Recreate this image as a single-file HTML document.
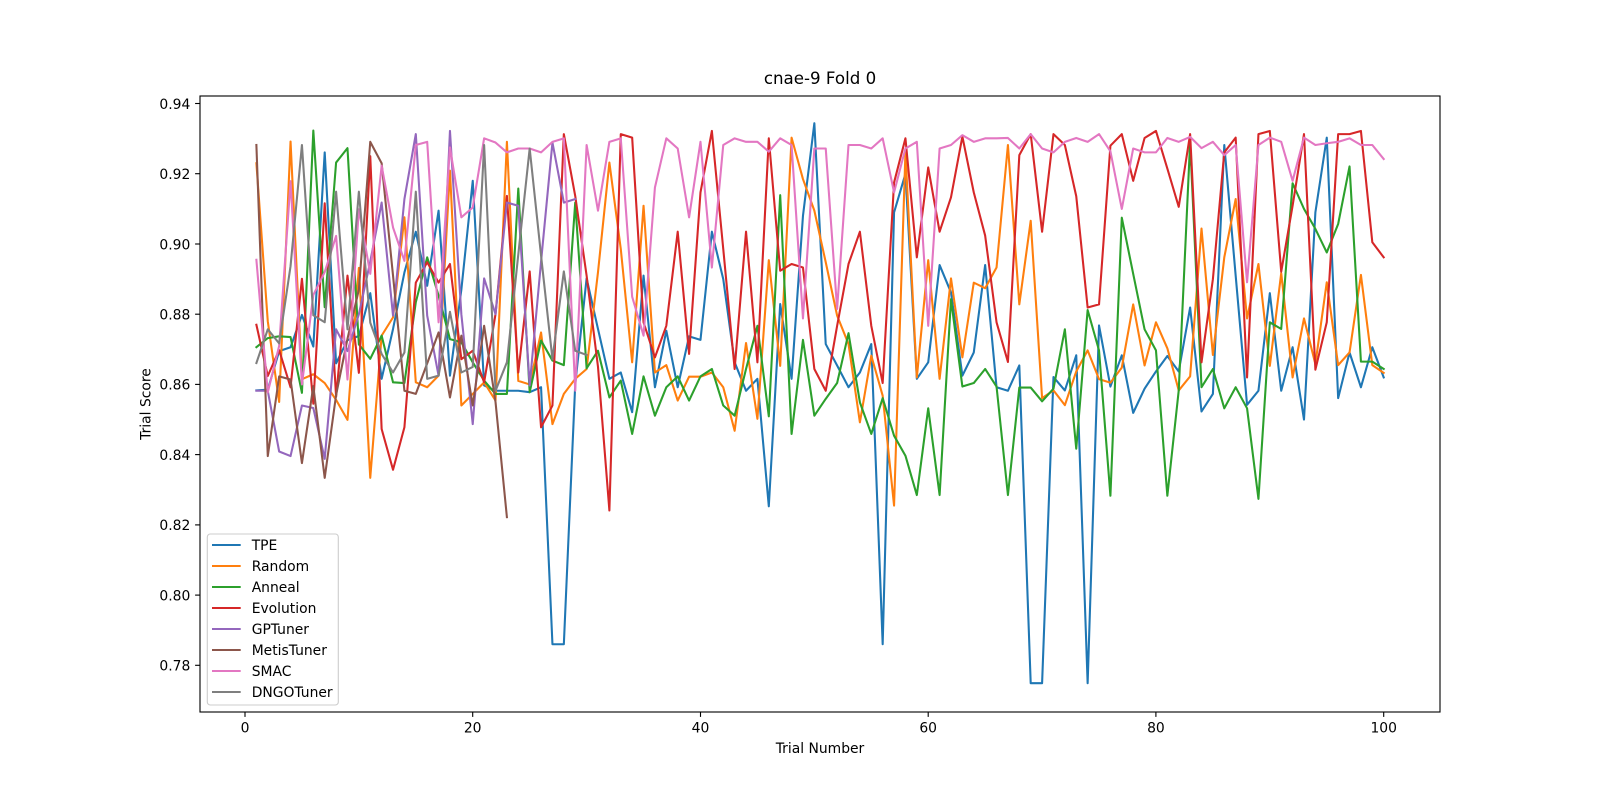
<!DOCTYPE html>
<html>
<head>
<meta charset="utf-8">
<style>
  html, body { margin: 0; padding: 0; background: #ffffff; }
  svg { display: block; }
  text { font-family: "DejaVu Sans", "Liberation Sans", sans-serif; fill: #000; }
</style>
</head>
<body>
<svg width="1600" height="800" viewBox="0 0 1600 800" xmlns="http://www.w3.org/2000/svg">
  <rect x="0" y="0" width="1600" height="800" fill="#ffffff"/>

  <!-- title -->
  <text x="820" y="84" font-size="16.67" text-anchor="middle">cnae-9 Fold 0</text>

  <!-- data -->
  <g transform="matrix(11.387 0 0 -3.511 245 3403.9)" fill="none" stroke-width="2.08" stroke-linejoin="round" stroke-linecap="square">
    <polyline vector-effect="non-scaling-stroke" stroke="#1f77b4" points="1,858.3 2,858.5 3,869.5 4,870.6 5,879.8 6,870.8 7,926.1 8,866 9,872.6 10,873.8 11,886 12,861.6 13,875.8 14,891.9 15,903.5 16,888.1 17,909.5 18,862.5 19,887 20,918 21,859.7 22,858.2 23,858.2 24,858.2 25,857.8 26,859.2 27,786 28,786 29,860 30,890.2 31,875.8 32,861.6 33,863.4 34,852.1 35,891 36,859.2 37,875.3 38,859.2 39,873.7 40,872.7 41,903.5 42,890 43,866.3 44,858.2 45,861.6 46,825.3 47,882.9 48,861.6 49,908 50,934.4 51,871.5 52,865.4 53,859.2 54,863.4 55,871.5 56,786 57,909 58,920 59,861.6 60,866.3 61,894 62,886.2 63,862.5 64,869.1 65,894 66,859.2 67,858.2 68,865.4 69,774.9 70,774.9 71,862.1 72,858.3 73,868.3 74,774.9 75,876.8 76,859.4 77,868.3 78,851.9 79,858.8 80,863.7 81,868.1 82,863.7 83,881.9 84,852.3 85,857.3 86,928.2 87,891 88,854.2 89,858.2 90,886 91,858.2 92,870.6 93,850 94,909 95,930.3 96,856.1 97,869.1 98,859.2 99,870.6 100,862"/>
    <polyline vector-effect="non-scaling-stroke" stroke="#ff7f0e" points="1,923 2,878 3,855 4,929.2 5,861.5 6,862.9 7,860.4 8,855.6 9,849.9 10,893.2 11,833.4 12,873.9 13,879.1 14,907.6 15,860.6 16,859.2 17,862.5 18,920.9 19,854 20,857.3 21,860.6 22,855.4 23,929.1 24,861 25,860 26,874.8 27,848.7 28,857.3 29,861.6 30,864.4 31,892 32,923.2 33,898.6 34,866.3 35,910.9 36,863.4 37,865.5 38,855.4 39,862.2 40,862.2 41,863.4 42,859.2 43,846.8 44,871.8 45,850.2 46,895.4 47,865.3 48,930.3 49,918.5 50,909.5 51,894.8 52,879.6 53,871.5 54,849.2 55,868.2 56,856.8 57,825.5 58,926.1 59,862 60,895.4 61,861.6 62,890.2 63,867.7 64,889 65,887.4 66,893.3 67,928.2 68,882.8 69,906.6 70,856.1 71,858.3 72,854.1 73,863.7 74,869.7 75,861.5 76,860.5 77,864.8 78,882.8 79,865.4 80,877.7 81,870.3 82,858.3 83,862.3 84,904.4 85,868.4 86,896.2 87,912.8 88,878.8 89,894.3 90,865.3 91,891.7 92,862 93,878.8 94,865.8 95,889.1 96,865.5 97,869.1 98,891.2 99,865.5 100,863.3"/>
    <polyline vector-effect="non-scaling-stroke" stroke="#2ca02c" points="1,870.6 2,873.2 3,873.7 4,873.5 5,857.6 6,932.3 7,882 8,923.2 9,927.3 10,871.4 11,867.3 12,873.9 13,860.6 14,860.4 15,883.4 16,896.2 17,885.3 18,872.9 19,872 20,866.3 21,861.1 22,857.3 23,857.3 24,915.8 25,857.8 26,872.5 27,866.8 28,865.5 29,911.8 30,864.6 31,869.6 32,856.3 33,861.1 34,845.9 35,862.3 36,851.1 37,859.2 38,862.3 39,855.4 40,862.3 41,864.4 42,854 43,851.1 44,864.4 45,876.7 46,850.9 47,913.9 48,845.9 49,872.7 50,851.1 51,855.9 52,860.4 53,874.6 54,854.9 55,845.9 56,856.1 57,845.4 58,839.7 59,828.5 60,853.2 61,828.5 62,884.3 63,859.4 64,860.4 65,864.4 66,859.4 67,828.5 68,859.1 69,859.1 70,855.2 71,858.8 72,875.7 73,841.7 74,881.2 75,869.7 76,828.3 77,907.5 78,891.5 79,875.7 80,869.7 81,828.3 82,858.3 83,929 84,859.2 85,864.4 86,853.2 87,859.2 88,853.2 89,827.4 90,877.7 91,875.8 92,917.3 93,910 94,904.3 95,897.6 96,905.7 97,922.1 98,866.5 99,866.5 100,864.4"/>
    <polyline vector-effect="non-scaling-stroke" stroke="#d62728" points="1,877 2,862.4 3,869.8 4,859.2 5,890.1 6,854.5 7,911.6 8,856.5 9,891 10,863.3 11,925 12,847.3 13,835.7 14,847.8 15,889 16,894.8 17,889 18,894.3 19,867.2 20,869.6 21,860.6 22,880 23,913.7 24,863.4 25,892.2 26,847.8 27,854 28,931.3 29,913.7 30,891 31,865 32,824.1 33,931.3 34,930.3 35,877.7 36,867.7 37,876.7 38,903.5 39,868.7 40,914.7 41,932.2 42,898.6 43,864.4 44,903.5 45,866.3 46,930.1 47,892.4 48,894.3 49,893.3 50,864.4 51,858.2 52,876.7 53,894.3 54,903.5 55,876.7 56,860.4 57,917.5 58,930.1 59,896.2 60,921.8 61,903.5 62,913.3 63,930.6 64,914.7 65,902.4 66,877.7 67,866.4 68,925.3 69,931.3 70,903.5 71,931.3 72,928.2 73,913.6 74,881.9 75,882.8 76,928 77,931.3 78,918 79,930.2 80,932.2 81,921.5 82,910.6 83,931.3 84,866.3 85,890 86,926.1 87,930.3 88,862 89,931.3 90,932.2 91,892.1 92,910.9 93,931.3 94,864.2 95,877.7 96,931.3 97,931.3 98,932.2 99,900.5 100,896.2"/>
    <polyline vector-effect="non-scaling-stroke" stroke="#9467bd" points="1,858.2 2,858.2 3,840.9 4,839.6 5,854 6,853.3 7,838.8 8,875.7 9,869.5 10,880 11,895 12,911.8 13,879.6 14,912.8 15,931.3 16,879.6 17,862.5 18,932.2 19,880 20,848.7 21,890.2 22,880 23,911.8 24,910.9 25,859.7 26,895 27,928.9 28,911.8 29,912.8"/>
    <polyline vector-effect="non-scaling-stroke" stroke="#8c564b" points="1,928.2 2,839.6 3,862.3 4,861.4 5,837.6 6,859.5 7,833.4 8,857 9,873 10,887 11,929.1 12,923 13,891 14,858.2 15,857.3 16,866 17,874.8 18,856.3 19,873.9 20,854 21,876.7 22,855 23,822.2"/>
    <polyline vector-effect="non-scaling-stroke" stroke="#e377c2" points="1,895.5 2,857.7 3,871 4,917.9 5,860 6,885.5 7,892 8,902.3 9,861.4 10,909.9 11,891.5 12,922.3 13,904.7 14,895.2 15,928.2 16,929.1 17,877.7 18,927.5 19,907.6 20,910.4 21,930.1 22,928.9 23,926.1 24,927.2 25,927.2 26,926.1 27,929.1 28,930.1 29,858.2 30,928.2 31,909.5 32,929.1 33,930.1 34,885 35,873.9 36,916.1 37,930.1 38,927.2 39,907.6 40,929.1 41,893.3 42,928.2 43,930.1 44,929.1 45,929.1 46,926.3 47,930.1 48,928.2 49,878.8 50,927.2 51,927.2 52,881.5 53,928.2 54,928.2 55,927.2 56,930.1 57,914.7 58,927.2 59,929.1 60,876.7 61,927.2 62,928.2 63,931 64,929.1 65,930.1 66,930.1 67,930.2 68,927.2 69,931.3 70,927.2 71,926.1 72,929.1 73,930.2 74,929.1 75,931.3 76,926.4 77,910 78,927.2 79,926.1 80,926.1 81,930.2 82,929.1 83,930.5 84,927.3 85,929.1 86,925.3 87,928.2 88,889.1 89,928.2 90,930.3 91,929.1 92,918 93,930.3 94,928.2 95,928.7 96,929.1 97,930.1 98,928.2 99,928.2 100,924.2"/>
    <polyline vector-effect="non-scaling-stroke" stroke="#7f7f7f" points="1,866.1 2,875.7 3,871.7 4,893.7 5,928.2 6,879.7 7,877.7 8,914.9 9,875.7 10,914.9 11,877.6 12,868.7 13,863.4 14,869.1 15,914.9 16,861.6 17,862.5 18,880.7 19,863.4 20,865 21,928.2 22,858.2 23,866.3 24,897 25,927.2 26,896.7 27,867.2 28,892.2 29,869.6 30,868.4"/>
  </g>

  <!-- axes frame -->
  <rect x="200" y="96" width="1240" height="616" fill="none" stroke="#000" stroke-width="1.11"/>

  <!-- x ticks -->
  <g stroke="#000" stroke-width="1.11">
    <line x1="245" y1="712" x2="245" y2="716.9"/>
    <line x1="472.7" y1="712" x2="472.7" y2="716.9"/>
    <line x1="700.5" y1="712" x2="700.5" y2="716.9"/>
    <line x1="928.2" y1="712" x2="928.2" y2="716.9"/>
    <line x1="1155.9" y1="712" x2="1155.9" y2="716.9"/>
    <line x1="1383.7" y1="712" x2="1383.7" y2="716.9"/>
  </g>
  <g font-size="13.89" text-anchor="middle">
    <text x="245" y="732.5">0</text>
    <text x="472.7" y="732.5">20</text>
    <text x="700.5" y="732.5">40</text>
    <text x="928.2" y="732.5">60</text>
    <text x="1155.9" y="732.5">80</text>
    <text x="1383.7" y="732.5">100</text>
  </g>
  <text x="820" y="753" font-size="13.89" text-anchor="middle">Trial Number</text>

  <!-- y ticks -->
  <g stroke="#000" stroke-width="1.11">
    <line x1="195.1" y1="665.3" x2="200" y2="665.3"/>
    <line x1="195.1" y1="595.1" x2="200" y2="595.1"/>
    <line x1="195.1" y1="524.9" x2="200" y2="524.9"/>
    <line x1="195.1" y1="454.6" x2="200" y2="454.6"/>
    <line x1="195.1" y1="384.4" x2="200" y2="384.4"/>
    <line x1="195.1" y1="314.2" x2="200" y2="314.2"/>
    <line x1="195.1" y1="244" x2="200" y2="244"/>
    <line x1="195.1" y1="173.7" x2="200" y2="173.7"/>
    <line x1="195.1" y1="103.5" x2="200" y2="103.5"/>
  </g>
  <g font-size="13.89" text-anchor="end">
    <text x="190.3" y="670.6">0.78</text>
    <text x="190.3" y="600.4">0.80</text>
    <text x="190.3" y="530.2">0.82</text>
    <text x="190.3" y="459.9">0.84</text>
    <text x="190.3" y="389.7">0.86</text>
    <text x="190.3" y="319.5">0.88</text>
    <text x="190.3" y="249.3">0.90</text>
    <text x="190.3" y="179">0.92</text>
    <text x="190.3" y="108.8">0.94</text>
  </g>
  <text transform="translate(150.5,404) rotate(-90)" font-size="13.89" text-anchor="middle">Trial Score</text>

  <!-- legend -->
  <rect x="207.3" y="534" width="131" height="171" rx="3" ry="3" fill="#ffffff" fill-opacity="0.8" stroke="#cccccc" stroke-width="1.11"/>
  <g stroke-width="2.08" stroke-linecap="butt">
    <line x1="212" y1="545" x2="240.7" y2="545" stroke="#1f77b4"/>
    <line x1="212" y1="566" x2="240.7" y2="566" stroke="#ff7f0e"/>
    <line x1="212" y1="587" x2="240.7" y2="587" stroke="#2ca02c"/>
    <line x1="212" y1="608" x2="240.7" y2="608" stroke="#d62728"/>
    <line x1="212" y1="629" x2="240.7" y2="629" stroke="#9467bd"/>
    <line x1="212" y1="650" x2="240.7" y2="650" stroke="#8c564b"/>
    <line x1="212" y1="671" x2="240.7" y2="671" stroke="#e377c2"/>
    <line x1="212" y1="692" x2="240.7" y2="692" stroke="#7f7f7f"/>
  </g>
  <g font-size="13.89">
    <text x="251.7" y="550">TPE</text>
    <text x="251.7" y="571">Random</text>
    <text x="251.7" y="592">Anneal</text>
    <text x="251.7" y="613">Evolution</text>
    <text x="251.7" y="634">GPTuner</text>
    <text x="251.7" y="655">MetisTuner</text>
    <text x="251.7" y="676">SMAC</text>
    <text x="251.7" y="697">DNGOTuner</text>
  </g>
</svg>
</body>
</html>
